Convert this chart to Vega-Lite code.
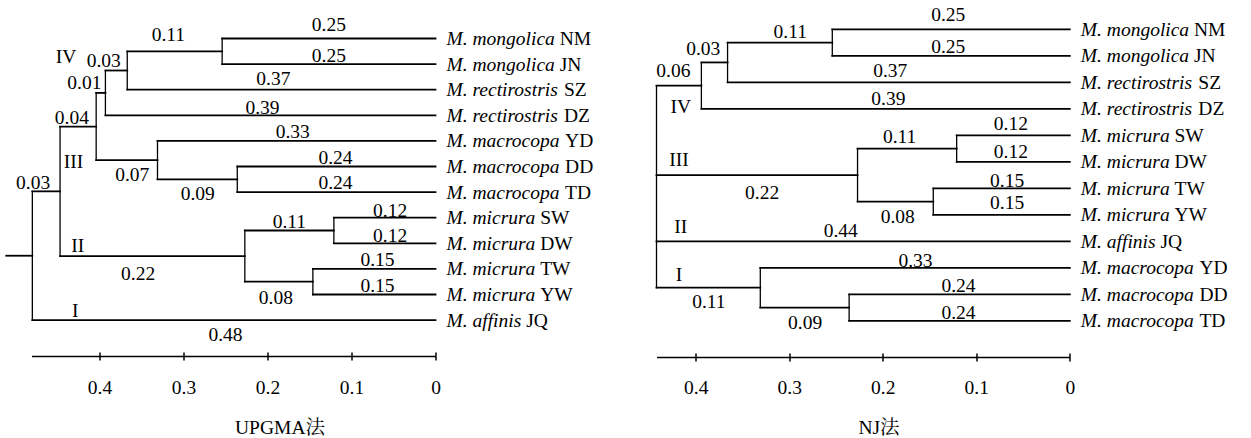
{
  "$schema": "https://vega.github.io/schema/vega-lite/v6.json",
  "padding": {"left": 4.5, "top": 0, "right": 5, "bottom": 0},
  "bounds": "flush",
  "spacing": 221,
  "config": {
    "view": {"stroke": null},
    "font": "Times New Roman, Liberation Serif, serif",
    "text": {"font": "Times New Roman, Liberation Serif, serif", "fontSize": 19.5, "color": "#000", "baseline": "alphabetic", "dy": 6.5},
    "rule": {"color": "#000", "strokeCap": "square"},
    "axis": {"grid": false, "labelFont": "Times New Roman, Liberation Serif, serif", "labelFontSize": 19.5, "labelColor": "#000", "tickColor": "#000", "domainColor": "#000", "tickWidth": 1.5, "domainWidth": 1.5, "titleFont": "Times New Roman, Liberation Serif, Noto Serif CJK SC, Noto Sans CJK SC, serif", "titleFontSize": 19.5, "titleFontWeight": "normal", "titleColor": "#000", "labelFlush": false, "labelOverlap": false}
  },
  "datasets": {
    "segL": [
      {"x": 0.254, "x2": 0, "y": 0, "y2": 0, "d": "h"},
      {"x": 0.254, "x2": 0, "y": 1, "y2": 1, "d": "h"},
      {"x": 0.367, "x2": 0.254, "y": 0.5, "y2": 0.5, "d": "h"},
      {"x": 0.367, "x2": 0, "y": 2, "y2": 2, "d": "h"},
      {"x": 0.393, "x2": 0.367, "y": 1.25, "y2": 1.25, "d": "h"},
      {"x": 0.393, "x2": 0, "y": 3, "y2": 3, "d": "h"},
      {"x": 0.404, "x2": 0.393, "y": 2.125, "y2": 2.125, "d": "h"},
      {"x": 0.331, "x2": 0, "y": 4, "y2": 4, "d": "h"},
      {"x": 0.236, "x2": 0, "y": 5, "y2": 5, "d": "h"},
      {"x": 0.236, "x2": 0, "y": 6, "y2": 6, "d": "h"},
      {"x": 0.331, "x2": 0.236, "y": 5.5, "y2": 5.5, "d": "h"},
      {"x": 0.404, "x2": 0.331, "y": 4.75, "y2": 4.75, "d": "h"},
      {"x": 0.447, "x2": 0.404, "y": 3.44, "y2": 3.44, "d": "h"},
      {"x": 0.121, "x2": 0, "y": 7, "y2": 7, "d": "h"},
      {"x": 0.121, "x2": 0, "y": 8, "y2": 8, "d": "h"},
      {"x": 0.146, "x2": 0, "y": 9, "y2": 9, "d": "h"},
      {"x": 0.146, "x2": 0, "y": 10, "y2": 10, "d": "h"},
      {"x": 0.227, "x2": 0.121, "y": 7.5, "y2": 7.5, "d": "h"},
      {"x": 0.227, "x2": 0.146, "y": 9.5, "y2": 9.5, "d": "h"},
      {"x": 0.447, "x2": 0.227, "y": 8.5, "y2": 8.5, "d": "h"},
      {"x": 0.48, "x2": 0.447, "y": 5.97, "y2": 5.97, "d": "h"},
      {"x": 0.48, "x2": 0, "y": 11, "y2": 11, "d": "h"},
      {"x": 0.511, "x2": 0.48, "y": 8.485, "y2": 8.485, "d": "h"},
      {"x": 0.254, "x2": 0.254, "y": 0, "y2": 1, "d": "v"},
      {"x": 0.367, "x2": 0.367, "y": 0.5, "y2": 2, "d": "v"},
      {"x": 0.393, "x2": 0.393, "y": 1.25, "y2": 3, "d": "v"},
      {"x": 0.236, "x2": 0.236, "y": 5, "y2": 6, "d": "v"},
      {"x": 0.331, "x2": 0.331, "y": 4, "y2": 5.5, "d": "v"},
      {"x": 0.404, "x2": 0.404, "y": 2.125, "y2": 4.75, "d": "v"},
      {"x": 0.121, "x2": 0.121, "y": 7, "y2": 8, "d": "v"},
      {"x": 0.146, "x2": 0.146, "y": 9, "y2": 10, "d": "v"},
      {"x": 0.227, "x2": 0.227, "y": 7.5, "y2": 9.5, "d": "v"},
      {"x": 0.447, "x2": 0.447, "y": 3.44, "y2": 8.5, "d": "v"},
      {"x": 0.48, "x2": 0.48, "y": 5.97, "y2": 11, "d": "v"}
    ],
    "segR": [
      {"x": 0.254, "x2": 0, "y": 0, "y2": 0, "d": "h"},
      {"x": 0.254, "x2": 0, "y": 1, "y2": 1, "d": "h"},
      {"x": 0.366, "x2": 0.254, "y": 0.5, "y2": 0.5, "d": "h"},
      {"x": 0.366, "x2": 0, "y": 2, "y2": 2, "d": "h"},
      {"x": 0.394, "x2": 0.366, "y": 1.25, "y2": 1.25, "d": "h"},
      {"x": 0.394, "x2": 0, "y": 3, "y2": 3, "d": "h"},
      {"x": 0.442, "x2": 0.394, "y": 2.125, "y2": 2.125, "d": "h"},
      {"x": 0.121, "x2": 0, "y": 4, "y2": 4, "d": "h"},
      {"x": 0.121, "x2": 0, "y": 5, "y2": 5, "d": "h"},
      {"x": 0.146, "x2": 0, "y": 6, "y2": 6, "d": "h"},
      {"x": 0.146, "x2": 0, "y": 7, "y2": 7, "d": "h"},
      {"x": 0.227, "x2": 0.121, "y": 4.5, "y2": 4.5, "d": "h"},
      {"x": 0.227, "x2": 0.146, "y": 6.5, "y2": 6.5, "d": "h"},
      {"x": 0.442, "x2": 0.227, "y": 5.5, "y2": 5.5, "d": "h"},
      {"x": 0.442, "x2": 0, "y": 8, "y2": 8, "d": "h"},
      {"x": 0.331, "x2": 0, "y": 9, "y2": 9, "d": "h"},
      {"x": 0.236, "x2": 0, "y": 10, "y2": 10, "d": "h"},
      {"x": 0.236, "x2": 0, "y": 11, "y2": 11, "d": "h"},
      {"x": 0.331, "x2": 0.236, "y": 10.5, "y2": 10.5, "d": "h"},
      {"x": 0.442, "x2": 0.331, "y": 9.75, "y2": 9.75, "d": "h"},
      {"x": 0.254, "x2": 0.254, "y": 0, "y2": 1, "d": "v"},
      {"x": 0.366, "x2": 0.366, "y": 0.5, "y2": 2, "d": "v"},
      {"x": 0.394, "x2": 0.394, "y": 1.25, "y2": 3, "d": "v"},
      {"x": 0.121, "x2": 0.121, "y": 4, "y2": 5, "d": "v"},
      {"x": 0.146, "x2": 0.146, "y": 6, "y2": 7, "d": "v"},
      {"x": 0.227, "x2": 0.227, "y": 4.5, "y2": 6.5, "d": "v"},
      {"x": 0.236, "x2": 0.236, "y": 10, "y2": 11, "d": "v"},
      {"x": 0.331, "x2": 0.331, "y": 9, "y2": 10.5, "d": "v"},
      {"x": 0.442, "x2": 0.442, "y": 2.125, "y2": 9.75, "d": "v"}
    ],
    "labL": [
      {"t": "0.25", "x": 0.127, "y": -0.53},
      {"t": "0.25", "x": 0.127, "y": 0.645},
      {"t": "0.11", "x": 0.318, "y": -0.137},
      {"t": "0.03", "x": 0.395, "y": 0.84},
      {"t": "0.01", "x": 0.418, "y": 1.7},
      {"t": "0.04", "x": 0.433, "y": 3.07},
      {"t": "0.37", "x": 0.193, "y": 1.58},
      {"t": "0.39", "x": 0.206, "y": 2.68},
      {"t": "0.33", "x": 0.17, "y": 3.65},
      {"t": "0.24", "x": 0.119, "y": 4.63},
      {"t": "0.24", "x": 0.119, "y": 5.61},
      {"t": "0.07", "x": 0.361, "y": 5.33},
      {"t": "0.09", "x": 0.283, "y": 6.04},
      {"t": "0.03", "x": 0.479, "y": 5.61},
      {"t": "0.11", "x": 0.174, "y": 7.13},
      {"t": "0.12", "x": 0.054, "y": 6.7},
      {"t": "0.12", "x": 0.054, "y": 7.71},
      {"t": "0.15", "x": 0.069, "y": 8.65},
      {"t": "0.15", "x": 0.069, "y": 9.63},
      {"t": "0.22", "x": 0.354, "y": 9.16},
      {"t": "0.08", "x": 0.19, "y": 10.1},
      {"t": "0.48", "x": 0.25, "y": 11.58},
      {"t": "IV", "x": 0.44, "y": 0.72},
      {"t": "III", "x": 0.431, "y": 4.82},
      {"t": "II", "x": 0.426, "y": 8.07},
      {"t": "I", "x": 0.429, "y": 10.61}
    ],
    "labR": [
      {"t": "0.25", "x": 0.13, "y": -0.54},
      {"t": "0.25", "x": 0.13, "y": 0.66},
      {"t": "0.11", "x": 0.299, "y": 0.1},
      {"t": "0.03", "x": 0.392, "y": 0.74},
      {"t": "0.06", "x": 0.424, "y": 1.57},
      {"t": "0.37", "x": 0.192, "y": 1.57},
      {"t": "0.39", "x": 0.194, "y": 2.63},
      {"t": "IV", "x": 0.416, "y": 2.93},
      {"t": "0.11", "x": 0.182, "y": 4.06},
      {"t": "0.12", "x": 0.063, "y": 3.54},
      {"t": "0.12", "x": 0.063, "y": 4.63},
      {"t": "0.15", "x": 0.067, "y": 5.69},
      {"t": "0.15", "x": 0.067, "y": 6.52},
      {"t": "III", "x": 0.418, "y": 4.93},
      {"t": "0.22", "x": 0.329, "y": 6.14},
      {"t": "0.08", "x": 0.184, "y": 7.05},
      {"t": "II", "x": 0.416, "y": 7.46},
      {"t": "0.44", "x": 0.245, "y": 7.61},
      {"t": "0.33", "x": 0.165, "y": 8.71},
      {"t": "I", "x": 0.418, "y": 9.27},
      {"t": "0.11", "x": 0.386, "y": 10.29},
      {"t": "0.24", "x": 0.119, "y": 9.65},
      {"t": "0.24", "x": 0.119, "y": 10.67},
      {"t": "0.09", "x": 0.283, "y": 11.08}
    ],
    "leafL": [
      {"row": 0, "name": "M. mongolica", "sp": "mongolica", "code": "NM"},
      {"row": 1, "name": "M. mongolica", "sp": "mongolica", "code": "JN"},
      {"row": 2, "name": "M. rectirostris", "sp": "rectirostris", "code": "SZ"},
      {"row": 3, "name": "M. rectirostris", "sp": "rectirostris", "code": "DZ"},
      {"row": 4, "name": "M. macrocopa", "sp": "macrocopa", "code": "YD"},
      {"row": 5, "name": "M. macrocopa", "sp": "macrocopa", "code": "DD"},
      {"row": 6, "name": "M. macrocopa", "sp": "macrocopa", "code": "TD"},
      {"row": 7, "name": "M. micrura", "sp": "micrura", "code": "SW"},
      {"row": 8, "name": "M. micrura", "sp": "micrura", "code": "DW"},
      {"row": 9, "name": "M. micrura", "sp": "micrura", "code": "TW"},
      {"row": 10, "name": "M. micrura", "sp": "micrura", "code": "YW"},
      {"row": 11, "name": "M. affinis", "sp": "affinis", "code": "JQ"}
    ],
    "leafR": [
      {"row": 0, "name": "M. mongolica", "sp": "mongolica", "code": "NM"},
      {"row": 1, "name": "M. mongolica", "sp": "mongolica", "code": "JN"},
      {"row": 2, "name": "M. rectirostris", "sp": "rectirostris", "code": "SZ"},
      {"row": 3, "name": "M. rectirostris", "sp": "rectirostris", "code": "DZ"},
      {"row": 4, "name": "M. micrura", "sp": "micrura", "code": "SW"},
      {"row": 5, "name": "M. micrura", "sp": "micrura", "code": "DW"},
      {"row": 6, "name": "M. micrura", "sp": "micrura", "code": "TW"},
      {"row": 7, "name": "M. micrura", "sp": "micrura", "code": "YW"},
      {"row": 8, "name": "M. affinis", "sp": "affinis", "code": "JQ"},
      {"row": 9, "name": "M. macrocopa", "sp": "macrocopa", "code": "YD"},
      {"row": 10, "name": "M. macrocopa", "sp": "macrocopa", "code": "DD"},
      {"row": 11, "name": "M. macrocopa", "sp": "macrocopa", "code": "TD"}
    ]
  },
  "hconcat": [
    {
      "width": 404,
      "height": 356,
      "resolve": {"axis": {"x": "independent"}},
      "layer": [
        {
          "data": {"name": "segL"},
          "transform": [{"filter": "datum.d == 'h'"}],
          "mark": {"type": "rule", "strokeWidth": 1.8},
          "encoding": {
            "x": {"field": "x", "type": "quantitative", "scale": {"domain": [0.481, 0], "nice": false, "zero": false},
              "axis": {"orient": "bottom", "values": [0.4, 0.3, 0.2, 0.1, 0], "format": ".1~f", "tickSize": 4, "labelBaseline": "alphabetic", "labelPadding": 33, "title": "UPGMA法", "titleX": 248, "titleY": 77, "titleBaseline": "alphabetic", "titleAlign": "center"}},
            "x2": {"field": "x2"},
            "y": {"field": "y", "type": "quantitative", "scale": {"domain": [-1.504, 12.402], "reverse": true, "nice": false, "zero": false}, "axis": null},
            "y2": {"field": "y2"}
          }
        },
        {
          "data": {"name": "segL"},
          "transform": [{"filter": "datum.d == 'v'"}],
          "mark": {"type": "rule", "strokeWidth": 1.3},
          "encoding": {
            "x": {"field": "x", "type": "quantitative", "scale": {"domain": [0.481, 0], "nice": false, "zero": false},
              "axis": {"orient": "bottom", "values": [0.4, 0.3, 0.2, 0.1, 0], "tickSize": -4, "labels": false, "domain": false, "title": null}},
            "x2": {"field": "x2"},
            "y": {"field": "y", "type": "quantitative", "scale": {"domain": [-1.504, 12.402], "reverse": true, "nice": false, "zero": false}, "axis": null},
            "y2": {"field": "y2"}
          }
        },
        {
          "data": {"name": "labL"},
          "mark": {"type": "text", "align": "center"},
          "encoding": {
            "x": {"field": "x", "type": "quantitative", "axis": null},
            "y": {"field": "y", "type": "quantitative", "axis": null},
            "text": {"field": "t"}
          }
        },
        {
          "data": {"name": "leafL"},
          "mark": {"type": "text", "align": "left", "fontStyle": "italic", "dx": 11},
          "encoding": {
            "x": {"datum": 0, "type": "quantitative", "axis": null},
            "y": {"field": "row", "type": "quantitative", "axis": null},
            "text": {"field": "name"}
          }
        },
        {
          "data": {"name": "leafL"},
          "transform": [{"filter": "datum.sp == 'mongolica'"}],
          "mark": {"type": "text", "align": "left", "dx": 124.2},
          "encoding": {"x": {"datum": 0, "type": "quantitative", "axis": null}, "y": {"field": "row", "type": "quantitative", "axis": null}, "text": {"field": "code"}}
        },
        {
          "data": {"name": "leafL"},
          "transform": [{"filter": "datum.sp == 'rectirostris'"}],
          "mark": {"type": "text", "align": "left", "dx": 128.5},
          "encoding": {"x": {"datum": 0, "type": "quantitative", "axis": null}, "y": {"field": "row", "type": "quantitative", "axis": null}, "text": {"field": "code"}}
        },
        {
          "data": {"name": "leafL"},
          "transform": [{"filter": "datum.sp == 'macrocopa'"}],
          "mark": {"type": "text", "align": "left", "dx": 129.6},
          "encoding": {"x": {"datum": 0, "type": "quantitative", "axis": null}, "y": {"field": "row", "type": "quantitative", "axis": null}, "text": {"field": "code"}}
        },
        {
          "data": {"name": "leafL"},
          "transform": [{"filter": "datum.sp == 'micrura'"}],
          "mark": {"type": "text", "align": "left", "dx": 104.7},
          "encoding": {"x": {"datum": 0, "type": "quantitative", "axis": null}, "y": {"field": "row", "type": "quantitative", "axis": null}, "text": {"field": "code"}}
        },
        {
          "data": {"name": "leafL"},
          "transform": [{"filter": "datum.sp == 'affinis'"}],
          "mark": {"type": "text", "align": "left", "dx": 90.7},
          "encoding": {"x": {"datum": 0, "type": "quantitative", "axis": null}, "y": {"field": "row", "type": "quantitative", "axis": null}, "text": {"field": "code"}}
        }
      ]
    },
    {
      "width": 413.3,
      "height": 357,
      "resolve": {"axis": {"x": "independent"}},
      "layer": [
        {
          "data": {"name": "segR"},
          "transform": [{"filter": "datum.d == 'h'"}],
          "mark": {"type": "rule", "strokeWidth": 1.8},
          "encoding": {
            "x": {"field": "x", "type": "quantitative", "scale": {"domain": [0.442, 0], "nice": false, "zero": false},
              "axis": {"orient": "bottom", "values": [0.4, 0.3, 0.2, 0.1, 0], "format": ".1~f", "tickSize": 4, "labelBaseline": "alphabetic", "labelPadding": 32, "title": "NJ法", "titleX": 222, "titleY": 76, "titleBaseline": "alphabetic", "titleAlign": "center"}},
            "x2": {"field": "x2"},
            "y": {"field": "y", "type": "quantitative", "scale": {"domain": [-1.1057, 12.366], "reverse": true, "nice": false, "zero": false}, "axis": null},
            "y2": {"field": "y2"}
          }
        },
        {
          "data": {"name": "segR"},
          "transform": [{"filter": "datum.d == 'v'"}],
          "mark": {"type": "rule", "strokeWidth": 1.3},
          "encoding": {
            "x": {"field": "x", "type": "quantitative", "scale": {"domain": [0.442, 0], "nice": false, "zero": false},
              "axis": {"orient": "bottom", "values": [0.4, 0.3, 0.2, 0.1, 0], "tickSize": -4, "labels": false, "domain": false, "title": null}},
            "x2": {"field": "x2"},
            "y": {"field": "y", "type": "quantitative", "scale": {"domain": [-1.1057, 12.366], "reverse": true, "nice": false, "zero": false}, "axis": null},
            "y2": {"field": "y2"}
          }
        },
        {
          "data": {"name": "labR"},
          "mark": {"type": "text", "align": "center"},
          "encoding": {
            "x": {"field": "x", "type": "quantitative", "axis": null},
            "y": {"field": "y", "type": "quantitative", "axis": null},
            "text": {"field": "t"}
          }
        },
        {
          "data": {"name": "leafR"},
          "mark": {"type": "text", "align": "left", "fontStyle": "italic", "dx": 11},
          "encoding": {
            "x": {"datum": 0, "type": "quantitative", "axis": null},
            "y": {"field": "row", "type": "quantitative", "axis": null},
            "text": {"field": "name"}
          }
        },
        {
          "data": {"name": "leafR"},
          "transform": [{"filter": "datum.sp == 'mongolica'"}],
          "mark": {"type": "text", "align": "left", "dx": 124.2},
          "encoding": {"x": {"datum": 0, "type": "quantitative", "axis": null}, "y": {"field": "row", "type": "quantitative", "axis": null}, "text": {"field": "code"}}
        },
        {
          "data": {"name": "leafR"},
          "transform": [{"filter": "datum.sp == 'rectirostris'"}],
          "mark": {"type": "text", "align": "left", "dx": 128.5},
          "encoding": {"x": {"datum": 0, "type": "quantitative", "axis": null}, "y": {"field": "row", "type": "quantitative", "axis": null}, "text": {"field": "code"}}
        },
        {
          "data": {"name": "leafR"},
          "transform": [{"filter": "datum.sp == 'macrocopa'"}],
          "mark": {"type": "text", "align": "left", "dx": 129.6},
          "encoding": {"x": {"datum": 0, "type": "quantitative", "axis": null}, "y": {"field": "row", "type": "quantitative", "axis": null}, "text": {"field": "code"}}
        },
        {
          "data": {"name": "leafR"},
          "transform": [{"filter": "datum.sp == 'micrura'"}],
          "mark": {"type": "text", "align": "left", "dx": 104.7},
          "encoding": {"x": {"datum": 0, "type": "quantitative", "axis": null}, "y": {"field": "row", "type": "quantitative", "axis": null}, "text": {"field": "code"}}
        },
        {
          "data": {"name": "leafR"},
          "transform": [{"filter": "datum.sp == 'affinis'"}],
          "mark": {"type": "text", "align": "left", "dx": 90.7},
          "encoding": {"x": {"datum": 0, "type": "quantitative", "axis": null}, "y": {"field": "row", "type": "quantitative", "axis": null}, "text": {"field": "code"}}
        }
      ]
    }
  ]
}
